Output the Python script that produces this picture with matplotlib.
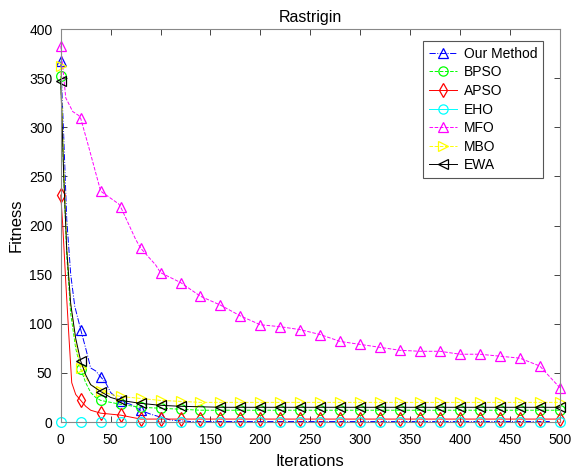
import numpy as np
import matplotlib
matplotlib.use("Agg")
from matplotlib import pyplot as plt

plt.rcParams['font.family'] = ['Liberation Sans', 'DejaVu Sans']

# marker iterations: 0, 20, ..., 500
marker_iters = list(range(0, 501, 20))

# extra early iterations where the curves drop steeply
our_x = [0, 3, 6, 10, 14, 20, 25, 30, 35, 40, 45, 50, 60, 70, 80, 90, 100, 110]
our_y = [367, 290, 206, 150, 118, 94, 75, 55, 52, 46, 40, 30, 21, 18, 12, 8, 5, 2]

bpso_x = [0, 3, 6, 10, 15, 20, 25, 30, 35, 40, 50, 60, 80, 100, 120]
bpso_y = [352, 250, 170, 110, 75, 54, 40, 30, 25, 22, 20, 18, 15, 14, 13]

apso_x = [0, 2, 5, 8, 11, 15, 20, 25, 30, 40, 50, 60, 70, 80, 100, 120]
apso_y = [231, 200, 143, 90, 40, 28, 22, 16, 12, 9, 8, 7, 5, 3, 3, 3]

mfo_x = [0, 5, 12, 18, 20, 28, 40, 58, 60, 75, 80, 95, 100, 120, 140, 160, 180, 200]
mfo_y = [383, 330, 316, 312, 309, 280, 235, 222, 219, 186, 177, 160, 152, 142, 128, 119, 108, 99]

mbo_x = [0, 3, 6, 10, 15, 20, 25, 30, 40, 50, 60, 80, 100, 120, 140]
mbo_y = [362, 260, 180, 120, 80, 55, 45, 38, 32, 28, 26, 24, 22, 21, 20]

ewa_x = [0, 3, 6, 10, 15, 20, 25, 30, 40, 50, 60, 80, 100, 120, 160]
ewa_y = [347, 250, 175, 120, 85, 62, 48, 38, 31, 25, 22, 19, 17, 16, 15]

# late values at marker iterations
our_late = [0.5] * 20          # 120..500
bpso_late = [12] * 19          # 140..500
apso_late = [3] * 19           # 140..500
eho_vals = [0.5] * 26          # 0..500
mfo_late = [97, 94, 89, 82, 79, 76, 73, 72, 72, 69, 69, 67, 65, 57, 35]  # 220..500
mbo_late = [20] * 18           # 160..500
ewa_late = [15] * 17           # 180..500


def full(xs, ys, late):
    start = xs[-1] + 20
    lx = list(range(start, 501, 20))
    return xs + lx, ys + late[:len(lx)]


series = [
    ("Our Method", full(our_x, our_y, our_late), '#0000ff', '-.', '^'),
    ("BPSO", full(bpso_x, bpso_y, bpso_late), '#00ff00', '--', 'o'),
    ("APSO", full(apso_x, apso_y, apso_late), '#ff0000', '-', 'd'),
    ("EHO", (marker_iters, eho_vals), '#00ffff', '-', 'o'),
    ("MFO", full(mfo_x, mfo_y, mfo_late), '#ff00ff', '--', '^'),
    ("MBO", full(mbo_x, mbo_y, mbo_late), '#ffff00', '--', '>'),
    ("EWA", full(ewa_x, ewa_y, ewa_late), '#000000', '-', '<'),
]

fig = plt.figure(figsize=(5.71, 4.72), dpi=100)
ax = fig.add_axes([0.1064, 0.1059, 0.8739, 0.8326])

for name, (xs, ys), c, ls, mk in series:
    idx = [i for i, v in enumerate(xs) if v % 20 == 0]
    ax.plot(xs, ys, color=c, linestyle=ls, linewidth=0.7, marker=mk,
            markersize=7, markerfacecolor='none', markeredgewidth=0.9,
            markevery=idx, label=name, clip_on=False)

ax.set_xlim(0, 500)
ax.set_ylim(0, 400)
ax.set_xticks(range(0, 501, 50))
ax.set_yticks(range(0, 401, 50))
ax.tick_params(direction='in', top=True, right=True, labelsize=10,
               color='#262626', length=4, width=0.6, pad=6)
ax.tick_params(axis='x', pad=8)
for s in ax.spines.values():
    s.set_color('#888888')
    s.set_linewidth(0.8)
ax.set_xlabel("Iterations", fontsize=12, labelpad=5)
ax.set_ylabel("Fitness", fontsize=12, labelpad=4)
ax.set_title("Rastrigin", fontsize=11.5, pad=5)

leg = ax.legend(loc='upper right', bbox_to_anchor=(0.966, 0.969), fontsize=10,
                fancybox=False, framealpha=1, edgecolor='#555555',
                handlelength=2.0, borderpad=0.4, labelspacing=0.33,
                borderaxespad=0, markerscale=0.95, handletextpad=0.5)
leg.get_frame().set_linewidth(0.8)

fig.savefig("out.png", dpi=100)
